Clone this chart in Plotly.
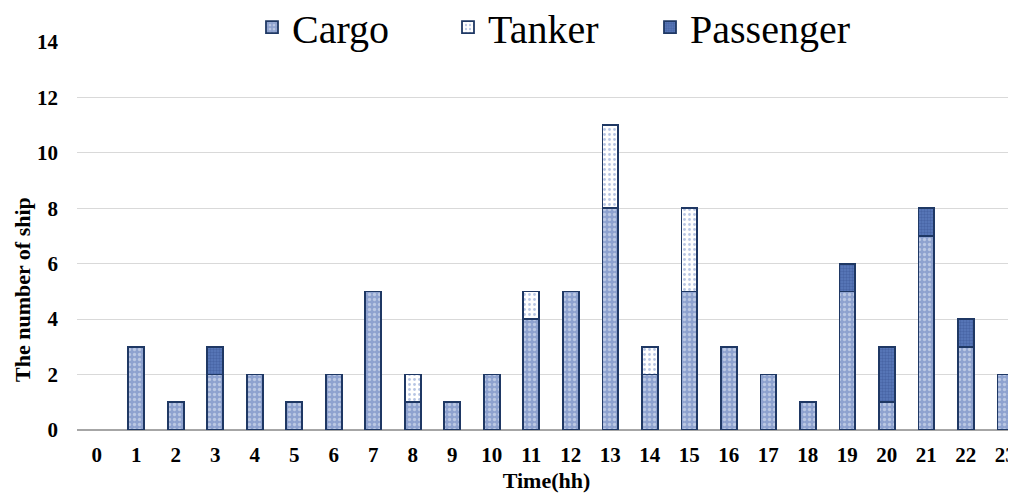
import plotly.graph_objects as go

hours = list(range(24))
tick_labels = [str(h) for h in hours]
cargo = [0, 3, 1, 2, 2, 1, 2, 5, 1, 1, 2, 4, 5, 8, 2, 5, 3, 2, 1, 5, 1, 7, 3, 2]
tanker = [0, 0, 0, 0, 0, 0, 0, 0, 1, 0, 0, 1, 0, 3, 1, 3, 0, 0, 0, 0, 0, 0, 0, 0]
passenger = [0, 0, 0, 1, 0, 0, 0, 0, 0, 0, 0, 0, 0, 0, 0, 0, 0, 0, 0, 1, 2, 1, 1, 0]

def nz(vals):
    return [v if v else None for v in vals]

OUTLINE = "#1f3864"
FONT = "Liberation Serif"

fig = go.Figure()
fig.add_trace(go.Bar(
    x=hours, y=nz(cargo), name="Cargo", width=0.4, legend="legend",
    marker=dict(color="#8ea2cf", line=dict(color=OUTLINE, width=1.8),
                pattern=dict(shape=".", fgcolor="#e8edf7", bgcolor="#8ea2cf", size=5, solidity=0.35)),
))
fig.add_trace(go.Bar(
    x=hours, y=nz(tanker), name="Tanker", width=0.4, legend="legend2",
    marker=dict(color="white", line=dict(color=OUTLINE, width=1.8),
                pattern=dict(shape=".", fgcolor="#6f8cc8", bgcolor="white", size=5, solidity=0.25)),
))
fig.add_trace(go.Bar(
    x=hours, y=nz(passenger), name="Passenger", width=0.4, legend="legend3",
    marker=dict(color="#4f6fb2", line=dict(color=OUTLINE, width=1.8),
                pattern=dict(shape=".", fgcolor="#35528f", bgcolor="#5a79bb", size=3, solidity=0.5)),
))

PLOT_LEFT = 69
PLOT_W = 939
PLOT_TOP = 34
PLOT_H = 388

def leg(xpix):
    return dict(orientation="h", x=(xpix - 8 - PLOT_LEFT) / PLOT_W, xanchor="left",
                yref="container", y=0.961, yanchor="middle",
                font=dict(family=FONT, size=40, color="black"),
                bgcolor="rgba(0,0,0,0)")

fig.update_layout(
    barmode="stack",
    width=1008, height=490,
    margin=dict(l=PLOT_LEFT, r=0, t=PLOT_TOP, b=68, autoexpand=False),
    paper_bgcolor="white", plot_bgcolor="white",
    font=dict(family=FONT, color="black"),
    showlegend=True,
    legend=leg(252), legend2=leg(448), legend3=leg(650),
    xaxis=dict(
        tickmode="array", tickvals=hours, ticktext=tick_labels,
        range=[-0.5, 23.27], showgrid=False, zeroline=False,
        showline=False, ticks="",
        tickfont=dict(family=FONT, size=21, color="black", weight="bold"),
        ticklabelstandoff=10,
        title=dict(text="<b>Time(hh)</b>", font=dict(family=FONT, size=22, color="black"), standoff=6),
    ),
    yaxis=dict(
        range=[0, 14], dtick=2, showgrid=True, gridcolor="#d9d9d9", gridwidth=1,
        zeroline=True, zerolinecolor="#a6a6a6", zerolinewidth=1.5,
        showline=False, ticks="",
        tickfont=dict(family=FONT, size=21, color="black", weight="bold"),
        ticklabelstandoff=18,
    ),
    annotations=[dict(
        text="<b>The number of ship</b>", textangle=-90, showarrow=False,
        xref="paper", yref="paper",
        x=(22 - 8 - PLOT_LEFT) / PLOT_W, y=(PLOT_TOP + PLOT_H - (290 - 8)) / PLOT_H,
        xanchor="center", yanchor="middle",
        font=dict(family=FONT, size=22, color="black"),
    )],
)

fig.write_html("out.html")
